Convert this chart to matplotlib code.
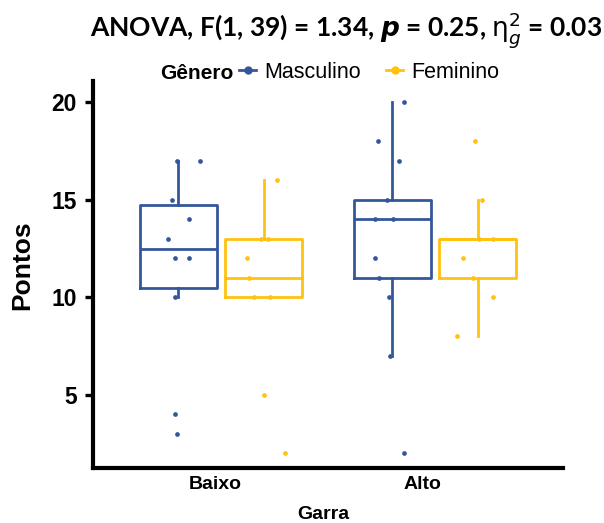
import matplotlib
matplotlib.use("Agg")
import matplotlib.pyplot as plt
from matplotlib.lines import Line2D
import matplotlib.transforms as mtransforms
import numpy as np

# ---- data ----
categories = ["Baixo", "Alto"]
groups = ["Masculino", "Feminino"]
colors = {"Masculino": "#34579B", "Feminino": "#FFC20E"}

# raw points (values) and horizontal jitter
masc_baixo = [17, 17, 15, 14, 13, 12, 12, 10, 4, 3]
masc_baixo_jit = [-0.005, 0.10, -0.03, 0.05, -0.05, -0.015, 0.05, -0.015, -0.015, -0.008]
fem_baixo = [16, 13, 13, 12, 11, 10, 10, 5, 2]
fem_baixo_jit = [0.06, -0.012, 0.02, -0.08, -0.07, -0.045, 0.027, 0.0, 0.10]
masc_alto = [20, 18, 17, 15, 14, 14, 12, 11, 10, 7, 2]
masc_alto_jit = [0.058, -0.067, 0.034, -0.023, -0.078, 0.003, -0.08, -0.06, -0.015, -0.008, 0.058]
fem_alto = [18, 15, 13, 13, 12, 11, 10, 8]
fem_alto_jit = [-0.014, 0.023, 0.005, 0.07, -0.07, -0.022, 0.07, -0.097]

# box statistics: (whislo, q1, med, q3, whishi)
box_masc_baixo = (10, 10.5, 12.5, 14.75, 17)
box_fem_baixo = (10, 10, 11, 13, 16)
box_masc_alto = (7, 11, 14, 15, 20)
box_fem_alto = (8, 11, 13, 13, 15)

yticks = [5, 10, 15, 20]
title_text = r"ANOVA, F(1, 39) = 1.34, $\mathbfit{p}$ = 0.25, $\mathrm{\eta}^2_g$ = 0.03"

points = {
    ("Baixo", "Masculino"): (masc_baixo, masc_baixo_jit),
    ("Baixo", "Feminino"): (fem_baixo, fem_baixo_jit),
    ("Alto", "Masculino"): (masc_alto, masc_alto_jit),
    ("Alto", "Feminino"): (fem_alto, fem_alto_jit),
}
boxes = {
    ("Baixo", "Masculino"): box_masc_baixo,
    ("Baixo", "Feminino"): box_fem_baixo,
    ("Alto", "Masculino"): box_masc_alto,
    ("Alto", "Feminino"): box_fem_alto,
}

# ---- figure ----
fig = plt.figure(figsize=(6.04, 5.23), dpi=100)
ax = fig.add_axes([93/604, 1-468/523, 470/604, 387/523])

dodge = {"Masculino": -0.2, "Feminino": 0.2}
width = 0.36
lw = 2.0

for ci, cat in enumerate(categories):
    xc = ci + 1
    for g in groups:
        col = colors[g]
        wl, q1, med, q3, wh = boxes[(cat, g)]
        stats = [dict(whislo=wl, q1=q1, med=med, q3=q3, whishi=wh, fliers=[])]
        ax.bxp(stats, positions=[xc + dodge[g]], widths=width, showcaps=False,
               showfliers=False, patch_artist=False,
               boxprops=dict(color=col, linewidth=lw),
               whiskerprops=dict(color=col, linewidth=lw),
               medianprops=dict(color=col, linewidth=lw))
        vals, jit = points[(cat, g)]
        xs = np.array(jit) + xc + dodge[g]
        ax.plot(xs, vals, 'o', color=col, ms=3.4, mew=0, zorder=5, linestyle='none')

ax.set_xlim(0.4, 2.6)
ax.set_ylim(1.25, 21.1)
ax.set_xticks([1, 2])
ax.set_xticklabels(categories)
ax.set_yticks(yticks)

for s in ["top", "right"]:
    ax.spines[s].set_visible(False)
for s in ["left", "bottom"]:
    ax.spines[s].set_linewidth(3)
    ax.spines[s].set_color("black")

ax.tick_params(axis="y", direction="out", length=5.5, width=2.4, pad=6,
               labelsize=16.5, colors="black")
ax.tick_params(axis="x", length=0, pad=6, labelsize=14)
for lab in ax.get_yticklabels() + ax.get_xticklabels():
    lab.set_fontfamily("Liberation Sans")
    lab.set_fontweight("bold")
# reference x tick labels sit a little left of the group centres
for lab, dx in zip(ax.get_xticklabels(), [-6, -12]):
    lab.set_transform(lab.get_transform() + mtransforms.ScaledTranslation(dx/100, 0, fig.dpi_scale_trans))

ax.set_xlabel("Garra", fontsize=14, fontweight="bold", family="Liberation Sans", labelpad=9)
ax.xaxis.label.set_transform(ax.xaxis.label.get_transform() + mtransforms.ScaledTranslation(-5/100, 0, fig.dpi_scale_trans))
ax.set_ylabel("Pontos", fontsize=19, fontweight="bold", family="Liberation Sans")
ax.yaxis.set_label_coords(-0.125, 0.525)

# title
fig.text(90/604, 1-36/523, title_text, ha="left", va="baseline",
         fontsize=19, fontweight="bold", family="Lato", math_fontfamily="dejavusans")

# legend
fig.text(160/604, 1-79/523, "Gênero", ha="left", va="baseline", fontsize=15,
         fontweight="bold", family="Liberation Sans")
handles = [Line2D([], [], color=colors[g], marker="o", ms=5, lw=2) for g in groups]
leg = fig.legend(handles, groups, loc="center left", bbox_to_anchor=(239/604, 1-72/523),
                 ncol=2, frameon=False, handlelength=0.8, handletextpad=0.35,
                 columnspacing=1.2, borderpad=0, borderaxespad=0,
                 prop=dict(family="Liberation Sans", size=15.5))

fig.savefig("out.png", dpi=100)
